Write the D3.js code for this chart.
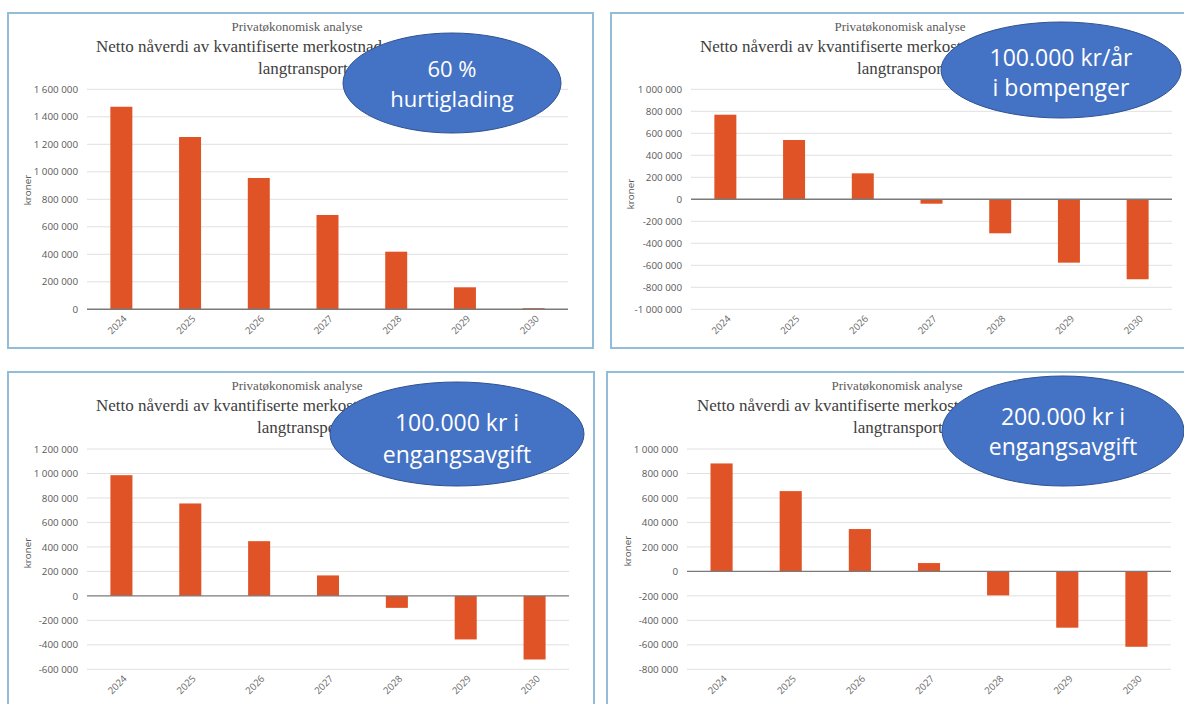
<!DOCTYPE html>
<html>
<head>
<meta charset="utf-8">
<script src="https://cdn.jsdelivr.net/npm/d3@7/dist/d3.min.js"></script>
<style>
  html, body { margin: 0; padding: 0; background: #ffffff; }
  svg { display: block; }
</style>
</head>
<body>
<svg id="chart" width="1184" height="704"></svg>
<script>
// Years on the category axis
const years = ["2024", "2025", "2026", "2027", "2028", "2029", "2030"];

// Net present value (kroner) per scenario
const hurtiglading     = [1473000, 1253000, 955000, 686000, 419000, 160000, 8000];
const bompenger        = [769000, 539000, 236000, -40000, -309000, -576000, -727000];
const engangsavgift100 = [986000, 755000, 447000, 167000, -98000, -356000, -520000];
const engangsavgift200 = [882000, 656000, 346000, 68000, -196000, -460000, -616000];

// Y-axis tick values per panel
const ticksHurtiglading = [0, 200000, 400000, 600000, 800000, 1000000, 1200000, 1400000, 1600000];
const ticksBompenger    = [-1000000, -800000, -600000, -400000, -200000, 0, 200000, 400000, 600000, 800000, 1000000];
const ticksEngang100    = [-600000, -400000, -200000, 0, 200000, 400000, 600000, 800000, 1000000, 1200000];
const ticksEngang200    = [-800000, -600000, -400000, -200000, 0, 200000, 400000, 600000, 800000, 1000000];

// Text
const subtitle = "Privatøkonomisk analyse";
const titleLines = ["Netto nåverdi av kvantifiserte merkostnader", "langtransport"];
const yLabel = "kroner";
const badgeHurtiglading = ["60 %", "hurtiglading"];
const badgeBompenger    = ["100.000 kr/år", "i bompenger"];
const badgeEngang100    = ["100.000 kr i", "engangsavgift"];
const badgeEngang200    = ["200.000 kr i", "engangsavgift"];

const locale = d3.formatLocale({ decimal: ",", thousands: " ", grouping: [3], currency: ["", " kr"], minus: "-" });
const fmt = locale.format(",d");

const BAR = "#e05326";
const AXIS_FONT = "'Open Sans', sans-serif";
const svg = d3.select("#chart");

const panels = [
  { values: hurtiglading, ticks: ticksHurtiglading, badge: badgeHurtiglading,
    frame: [8, 13, 585, 335], plot: { x0: 87, x1: 568, top: 89.3, bottom: 309.3 },
    sub: [297, 31], t1: [96, 52], t2: [258, 74], ylab: [28, 190],
    ell: { cx: 452, cy: 83, rx: 109, ry: 50, fs: 22, l1: 69, l2: 99 } },
  { values: bompenger, ticks: ticksBompenger, badge: badgeBompenger,
    frame: [611, 13, 600, 335], plot: { x0: 691, x1: 1172, top: 89.3, bottom: 309.3 },
    sub: [900, 31], t1: [700, 52], t2: [857, 74], ylab: [631, 194],
    ell: { cx: 1061, cy: 70, rx: 120, ry: 48, fs: 23, l1: 58, l2: 88 } },
  { values: engangsavgift100, ticks: ticksEngang100, badge: badgeEngang100,
    frame: [8, 372, 586, 345], plot: { x0: 87, x1: 569, top: 449, bottom: 669.3 },
    sub: [297, 390], t1: [96, 411], t2: [257, 433], ylab: [28, 553],
    ell: { cx: 457, cy: 434, rx: 127, ry: 52, fs: 23, l1: 423, l2: 455 } },
  { values: engangsavgift200, ticks: ticksEngang200, badge: badgeEngang200,
    frame: [607, 372, 600, 345], plot: { x0: 687, x1: 1171, top: 449, bottom: 669.3 },
    sub: [897, 390], t1: [697, 411], t2: [853, 433], ylab: [628, 551],
    ell: { cx: 1063, cy: 431, rx: 121, ry: 55, fs: 23, l1: 417, l2: 447 } }
];

panels.forEach(p => {
  const g = svg.append("g");
  const [fx, fy, fw, fh] = p.frame;

  g.append("rect")
    .attr("x", fx).attr("y", fy).attr("width", fw).attr("height", fh)
    .attr("fill", "#ffffff").attr("stroke", "#93bcd8").attr("stroke-width", 2);

  const dom = [d3.min(p.ticks), d3.max(p.ticks)];
  const y = d3.scaleLinear().domain(dom).range([p.plot.bottom, p.plot.top]);
  const x = d3.scaleBand().domain(years).range([p.plot.x0, p.plot.x1]).padding(0);

  // gridlines
  g.append("g").selectAll("line").data(p.ticks.filter(t => t !== 0)).join("line")
    .attr("x1", p.plot.x0).attr("x2", p.plot.x1)
    .attr("y1", d => y(d)).attr("y2", d => y(d))
    .attr("stroke", "#e0e0e0").attr("stroke-width", 1);

  // y axis labels
  const ya = g.append("g")
    .attr("transform", `translate(${p.plot.x0},0)`)
    .call(d3.axisLeft(y).tickValues(p.ticks).tickFormat(fmt).tickSize(0).tickPadding(9));
  ya.select(".domain").remove();
  ya.selectAll("text")
    .attr("fill", "#595959").attr("font-family", AXIS_FONT)
    .attr("font-size", 9.8);

  // bars
  const bw = x.bandwidth() * 0.32;
  g.append("g").selectAll("rect").data(p.values).join("rect")
    .attr("x", (d, i) => x(years[i]) + (x.bandwidth() - bw) / 2)
    .attr("y", d => y(Math.max(0, d)))
    .attr("width", bw)
    .attr("height", d => Math.max(1, Math.abs(y(d) - y(0))))
    .attr("fill", BAR);

  // zero line
  g.append("line")
    .attr("x1", p.plot.x0).attr("x2", p.plot.x1)
    .attr("y1", y(0)).attr("y2", y(0))
    .attr("stroke", "#7a7a7a").attr("stroke-width", 1.4);

  // x axis labels
  const xa = g.append("g")
    .attr("transform", `translate(0,${p.plot.bottom})`)
    .call(d3.axisBottom(x).tickSize(0).tickPadding(0));
  xa.select(".domain").remove();
  xa.selectAll("text")
    .attr("fill", "#6b6b6b").attr("font-family", AXIS_FONT)
    .attr("font-size", 9.6)
    .attr("text-anchor", "end")
    .attr("y", 0)
    .attr("dy", 0)
    .attr("transform", "translate(6,10) rotate(-45)");

  // y axis title
  g.append("text")
    .attr("transform", `translate(${p.ylab[0]},${p.ylab[1]}) rotate(-90)`)
    .attr("text-anchor", "middle").attr("dy", "0.35em")
    .attr("fill", "#595959").attr("font-family", AXIS_FONT)
    .attr("font-size", 9.8)
    .text(yLabel);

  // titles
  g.append("text")
    .attr("x", p.sub[0]).attr("y", p.sub[1])
    .attr("text-anchor", "middle")
    .attr("fill", "#5a5a5a").attr("font-family", "'Liberation Serif', serif")
    .attr("font-size", 13)
    .text(subtitle);
  g.append("text")
    .attr("x", p.t1[0]).attr("y", p.t1[1])
    .attr("fill", "#404040").attr("font-family", "'Liberation Serif', serif")
    .attr("font-size", 17)
    .text(titleLines[0]);
  g.append("text")
    .attr("x", p.t2[0]).attr("y", p.t2[1])
    .attr("fill", "#404040").attr("font-family", "'Liberation Serif', serif")
    .attr("font-size", 17)
    .text(titleLines[1]);

  // callout badge
  const e = p.ell;
  g.append("ellipse")
    .attr("cx", e.cx).attr("cy", e.cy).attr("rx", e.rx).attr("ry", e.ry)
    .attr("fill", "#4472c4").attr("stroke", "#2f528f").attr("stroke-width", 1);
  g.append("text")
    .attr("x", e.cx).attr("y", e.l1).attr("dy", "0.35em")
    .attr("text-anchor", "middle").attr("fill", "#ffffff")
    .attr("font-family", AXIS_FONT).attr("font-size", e.fs)
    .text(p.badge[0]);
  g.append("text")
    .attr("x", e.cx).attr("y", e.l2).attr("dy", "0.35em")
    .attr("text-anchor", "middle").attr("fill", "#ffffff")
    .attr("font-family", AXIS_FONT).attr("font-size", e.fs)
    .text(p.badge[1]);
});
</script>
</body>
</html>
